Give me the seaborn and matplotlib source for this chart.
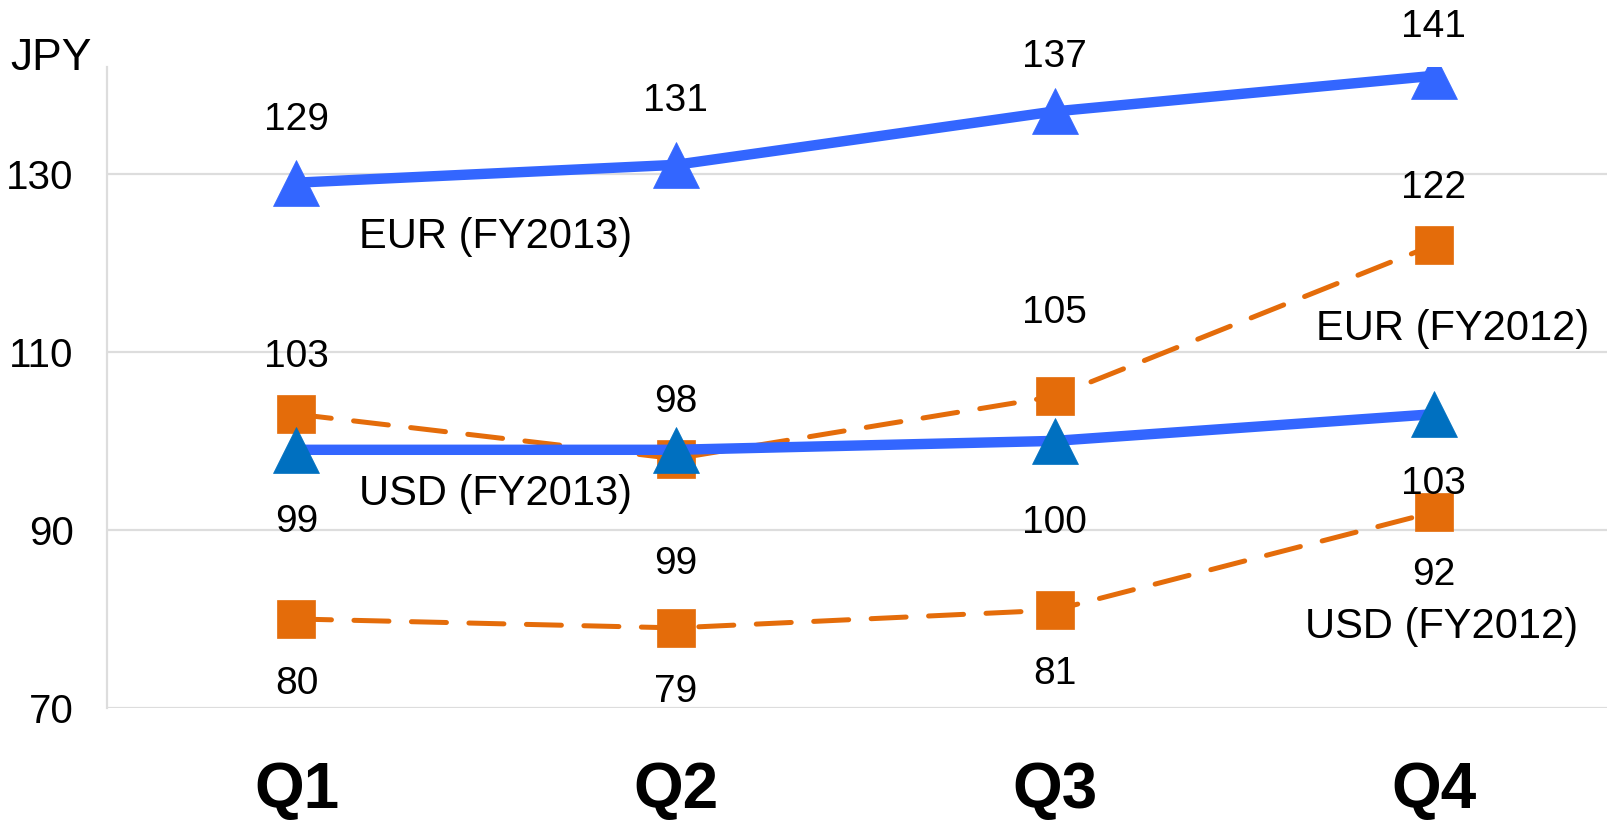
import pandas as pd
import numpy as np
import matplotlib.pyplot as plt
import seaborn as sns

sns.set_theme(style='white')
plt.rcParams['font.family'] = ['Liberation Sans', 'DejaVu Sans']
plt.rcParams['text.color'] = 'black'
plt.rcParams['xtick.color'] = 'black'
plt.rcParams['ytick.color'] = 'black'

# データ
quarters = ['Q1', 'Q2', 'Q3', 'Q4']
eur_fy2013 = [129, 131, 137, 141]
eur_fy2012 = [103, 98, 105, 122]
usd_fy2013 = [99, 99, 100, 103]
usd_fy2012 = [80, 79, 81, 92]
y_ticks = [70, 90, 110, 130]

BLUE = '#3366FF'
DARK_BLUE = '#0070C0'
ORANGE = '#E46C0A'

# (name, values, line color, marker color, marker, ms, linestyle, lw, label offsets in pt, name pos)
series = [
    ('EUR (FY2012)', eur_fy2012, ORANGE, ORANGE, 's', 28, (0, (7, 4.5)), 3.6,
     [41, 41, 60, 41], (2.69, 112.6)),
    ('USD (FY2012)', usd_fy2012, ORANGE, ORANGE, 's', 28, (0, (7, 4.5)), 3.6,
     [-47, -46, -46, -45], (2.66, 79.1)),
    ('USD (FY2013)', usd_fy2013, BLUE, DARK_BLUE, '^', 33, '-', 7.5,
     [-52, -82, -59, -50], (0.165, 94.0)),
    ('EUR (FY2013)', eur_fy2013, BLUE, BLUE, '^', 33, '-', 7.5,
     [45, 46, 39, 35], (0.165, 122.9)),
]

fig = plt.figure(figsize=(16.08, 8.23), dpi=100)
ax = fig.add_axes([0.0665, 0.1397, 0.9335, 0.779])

for name, vals, lc, mc, mk, ms, ls, lw, offs, pos in series:
    df = pd.DataFrame({'quarter': quarters, 'value': vals})
    sns.lineplot(data=df, x='quarter', y='value', ax=ax, color=lc, lw=lw,
                 linestyle=ls, marker=mk, markersize=ms, markerfacecolor=mc,
                 markeredgecolor=mc, markeredgewidth=0.5,
                 dash_capstyle='round', sort=False)
    for i, v in enumerate(vals):
        ax.annotate(str(v), (i, v), xytext=(0, offs[i]), textcoords='offset points',
                    ha='center', va='center', fontsize=28, color='black')
    ax.text(pos[0], pos[1], name, ha='left', va='center', fontsize=30, color='black')

ax.set_xlim(-0.5, 3.46)
ax.set_ylim(70, 142)
ax.set_yticks(y_ticks)
ax.set_xlabel('')
ax.set_ylabel('')
ax.grid(axis='y', color='#DDDDDD', lw=1.6)
ax.grid(axis='x', visible=False)
for s in ['top', 'right', 'bottom']:
    ax.spines[s].set_visible(False)
ax.spines['left'].set_color('#DDDDDD')
ax.spines['left'].set_linewidth(1.6)
ax.tick_params(axis='y', length=0, pad=24, labelsize=29, labelcolor='black')
ax.tick_params(axis='x', length=0, pad=38, labelsize=46, labelcolor='black')
for t in ax.get_xticklabels():
    t.set_fontweight('bold')

fig.text(10 / 1608, 1 - 58 / 823, 'JPY', ha='left', va='center', fontsize=32, color='black')

fig.savefig('out.png', dpi=100)
